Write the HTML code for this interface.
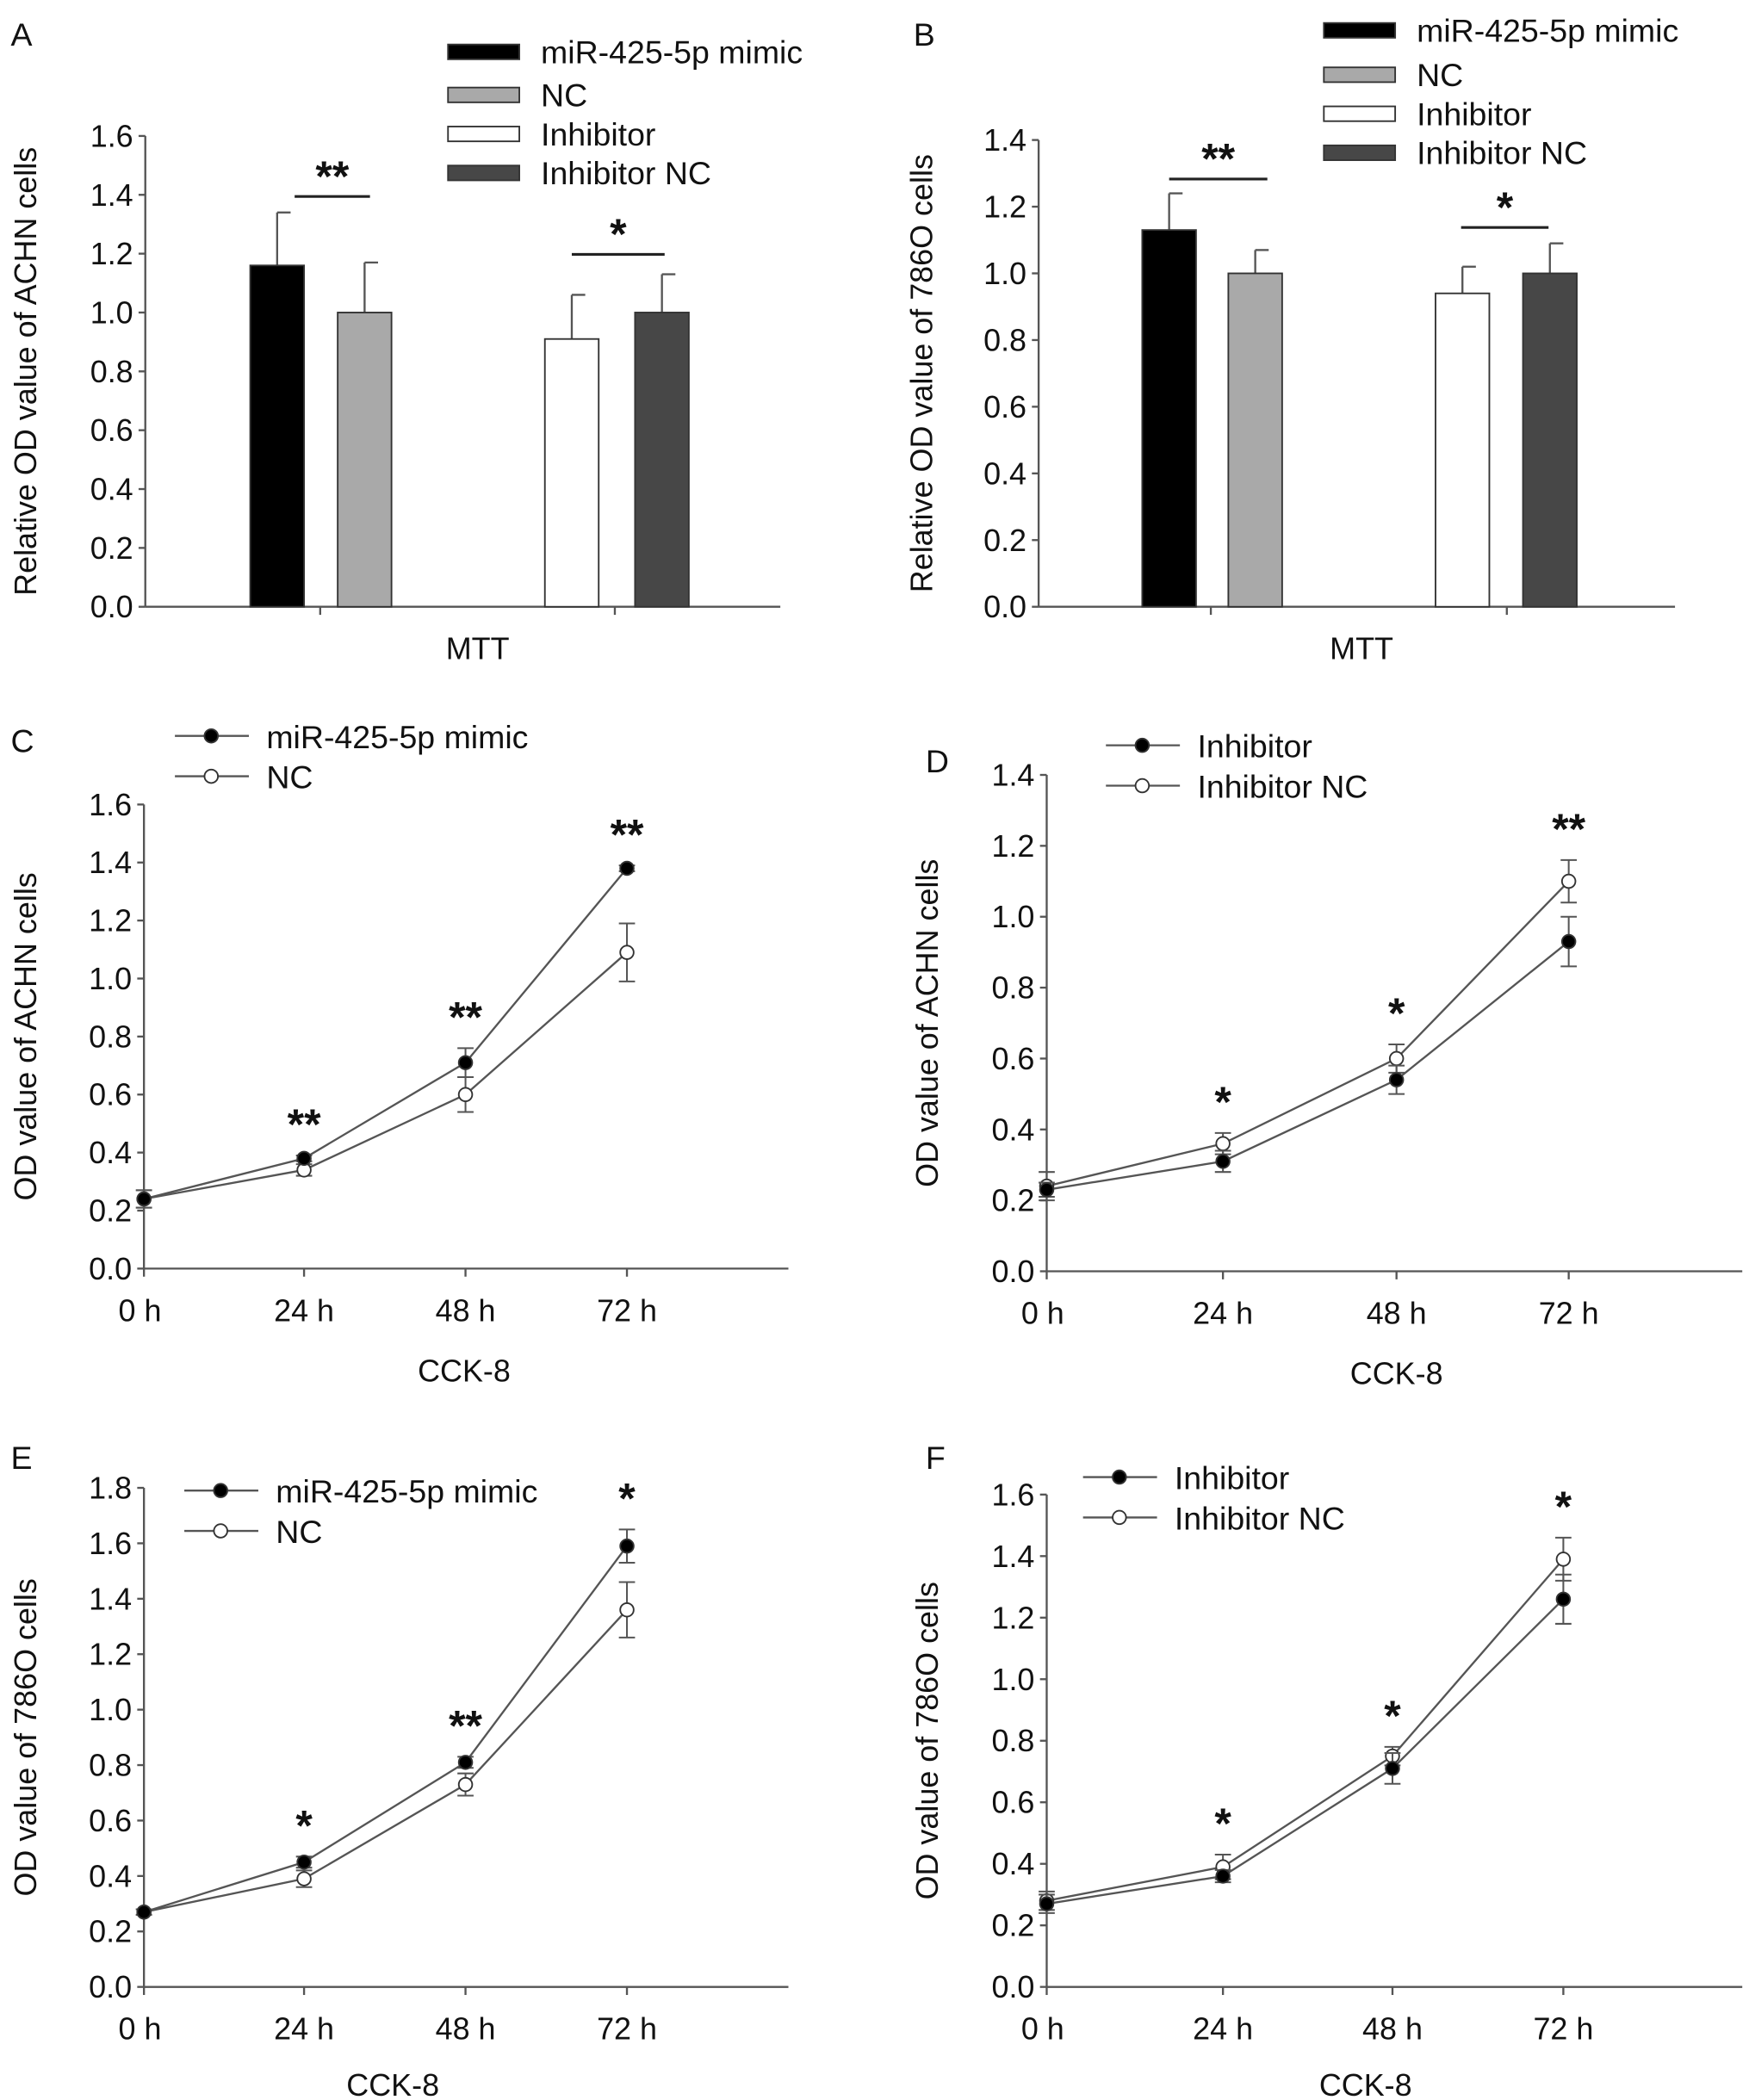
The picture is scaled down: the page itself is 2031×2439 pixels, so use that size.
<!DOCTYPE html>
<html><head><meta charset="utf-8"><style>
html,body{margin:0;padding:0;background:#fff}
svg{display:block}
text{font-family:"Liberation Sans",Arial,sans-serif;fill:#111}
</style></head><body>
<svg id="fig" width="2031" height="2439" viewBox="0 0 1300 1561" xmlns="http://www.w3.org/2000/svg"></svg>
<script>
// ---- Panel A (MTT ACHN) ----
const barLabels = ["miR-425-5p mimic","NC","Inhibitor","Inhibitor NC"];
const barColors = ["#000000","#a9a9a9","#ffffff","#474747"];
const aValues = [1.16, 1.00, 0.91, 1.00];
const aErrors = [0.18, 0.17, 0.15, 0.13];
const aTicks = ["0.0","0.2","0.4","0.6","0.8","1.0","1.2","1.4","1.6"];
// ---- Panel B (MTT 786O) ----
const bValues = [1.13, 1.00, 0.94, 1.00];
const bErrors = [0.11, 0.07, 0.08, 0.09];
const bTicks = ["0.0","0.2","0.4","0.6","0.8","1.0","1.2","1.4"];
// ---- Line panels ----
const timeLabels = ["0 h","24 h","48 h","72 h"];
const cMimic = [0.24, 0.38, 0.71, 1.38];
const cMimicErr = [0.03, 0.01, 0.05, 0.01];
const cNC = [0.24, 0.34, 0.60, 1.09];
const cNCErr = [0.03, 0.02, 0.06, 0.10];
const cStars = ["", "**", "**", "**"];
const dInh = [0.23, 0.31, 0.54, 0.93];
const dInhErr = [0.02, 0.03, 0.04, 0.07];
const dNC = [0.24, 0.36, 0.60, 1.10];
const dNCErr = [0.04, 0.03, 0.04, 0.06];
const dStars = ["", "*", "*", "**"];
const eMimic = [0.27, 0.45, 0.81, 1.59];
const eMimicErr = [0.01, 0.02, 0.02, 0.06];
const eNC = [0.27, 0.39, 0.73, 1.36];
const eNCErr = [0.01, 0.03, 0.04, 0.10];
const eStars = ["", "*", "**", "*"];
const fInh = [0.27, 0.36, 0.71, 1.26];
const fInhErr = [0.03, 0.02, 0.05, 0.08];
const fNC = [0.28, 0.39, 0.75, 1.39];
const fNCErr = [0.03, 0.04, 0.03, 0.07];
const fStars = ["", "*", "*", "*"];

const NS="http://www.w3.org/2000/svg";
const svg=document.getElementById('fig');
const AX="#555";
function el(tag,attrs,parent,txt){const e=document.createElementNS(NS,tag);for(const k in attrs)e.setAttribute(k,attrs[k]);if(txt!==undefined)e.textContent=txt;(parent||svg).appendChild(e);return e;}
function grp(name){const g=el('g',{});return g;}

function axes(g,p,ticks){
  const y=v=>p.y0-(v/p.ymax)*(p.y0-p.y1);
  const ya=el('line',{x1:p.x0,y1:p.y1,x2:p.x0,y2:p.y0,stroke:AX,'stroke-width':1.5},g);
  
  const xa=el('line',{x1:p.x0,y1:p.y0,x2:p.x2,y2:p.y0,stroke:AX,'stroke-width':1.5},g);
  
  ticks.forEach(t=>{const yy=y(parseFloat(t));
    el('line',{x1:p.x0-5,y1:yy,x2:p.x0,y2:yy,stroke:AX,'stroke-width':1.5},g);
    const tx=el('text',{x:p.x0-9,y:yy+8,'text-anchor':'end','font-size':23},g,t);
    
  });
  const yt=el('text',{x:0,y:0,'text-anchor':'middle','font-size':23,transform:`translate(${p.tx},${(p.y0+p.y1)/2+p.toff}) rotate(-90)`},g,p.title);
  
  const xt=el('text',{x:p.xtx,y:p.xty,'text-anchor':'middle','font-size':23},g,p.xtitle);
  
  const pl=el('text',{x:p.lx,y:p.ly,'font-size':24},g,p.letter);
  
  return y;
}

function barPanel(p,vals,errs,ticks){
  const g=grp(p.name);
  const y=axes(g,p,ticks);
  vals.forEach((v,i)=>{
    const bx=p.bx[i];
    el('line',{x1:bx+p.bw/2,y1:y(v+errs[i]),x2:bx+p.bw/2,y2:y(v),stroke:AX,'stroke-width':1.5},g);
    el('line',{x1:bx+p.bw/2,y1:y(v+errs[i]),x2:bx+p.bw/2+10,y2:y(v+errs[i]),stroke:AX,'stroke-width':1.5},g);
    const r=el('rect',{x:bx,y:y(v),width:p.bw,height:p.y0-y(v),fill:barColors[i],stroke:'#333','stroke-width':1.2},g);
    
    
  });
  p.gticks.forEach(x=>el('line',{x1:x,y1:p.y0,x2:x,y2:p.y0+6,stroke:AX,'stroke-width':1.5},g));
  p.sig.forEach(s=>{
    el('line',{x1:s.a,y1:s.y,x2:s.b,y2:s.y,stroke:'#222','stroke-width':2},g);
    const t=el('text',{x:(s.a+s.b)/2,y:s.y-4,'text-anchor':'middle','font-size':32,'font-weight':'bold'},g,s.t);
    
  });
  barLabels.forEach((l,i)=>{
    const lg=el('g',{},g);
    
    el('rect',{x:p.legx,y:p.legy[i]-5,width:53,height:11,fill:barColors[i],stroke:'#333','stroke-width':1.2},lg);
    el('text',{x:p.legx+69,y:p.legy[i]+9,'font-size':24},lg,l);
  });
}

function linePanel(p,s1,e1,s2,e2,stars,names,ticks){
  const g=grp(p.name);
  const y=axes(g,p,ticks);
  const x=i=>p.xs[i];
  timeLabels.forEach((t,i)=>{
    el('line',{x1:x(i),y1:p.y0,x2:x(i),y2:p.y0+6,stroke:AX,'stroke-width':1.5},g);
    const tx=el('text',{x:x(i)+(i==0?-3:0),y:p.y0+39,'text-anchor':'middle','font-size':23},g,t);
    
  });
  [[s2,e2,'#fff'],[s1,e1,'#000']].forEach(([s,e,f],k)=>{
    const sg=el('g',{},g);
    
    el('polyline',{points:s.map((v,i)=>x(i)+','+y(v)).join(' '),fill:'none',stroke:AX,'stroke-width':1.5},sg);
    s.forEach((v,i)=>{
      const t=y(v+e[i]),b=y(v-e[i]);
      el('line',{x1:x(i),y1:t,x2:x(i),y2:b,stroke:AX,'stroke-width':1.3},sg);
      el('line',{x1:x(i)-6,y1:t,x2:x(i)+6,y2:t,stroke:AX,'stroke-width':1.3},sg);
      el('line',{x1:x(i)-6,y1:b,x2:x(i)+6,y2:b,stroke:AX,'stroke-width':1.3},sg);
      const c=el('circle',{cx:x(i),cy:y(v),r:5,fill:f,stroke:'#333','stroke-width':1.2},sg);
      
    });
  });
  stars.forEach((st,i)=>{ if(!st)return;
    const top=Math.max(s1[i]+e1[i],s2[i]+e2[i]);
    const t=el('text',{x:x(i),y:y(top)-12,'text-anchor':'middle','font-size':32,'font-weight':'bold'},g,st);
    
  });
  names.forEach((n,i)=>{
    const lg=el('g',{},g);
    
    const yy=p.legy+i*30;
    el('line',{x1:p.legx,y1:yy,x2:p.legx+55,y2:yy,stroke:AX,'stroke-width':1.5},lg);
    el('circle',{cx:p.legx+27,cy:yy,r:5,fill:i==0?'#000':'#fff',stroke:'#333','stroke-width':1.2},lg);
    el('text',{x:p.legx+68,y:yy+9,'font-size':24},lg,n);
  });
}

barPanel({name:'panel-a',x0:108,x2:580,y0:451,y1:101,ymax:1.6,title:'Relative OD value of ACHN cells',tx:27,toff:0,
  xtitle:'MTT',xtx:355,xty:490,letter:'A',lx:8,ly:34,bx:[186,251,405,472],bw:40,gticks:[238,457],
  sig:[{a:219,b:275,y:146,t:'**'},{a:425,b:494,y:189,t:'*'}],legx:333,legy:[38,70,99,128]},aValues,aErrors,aTicks);
barPanel({name:'panel-b',x0:772,x2:1245,y0:451,y1:104,ymax:1.4,title:'Relative OD value of 786O cells',tx:693,toff:0,
  xtitle:'MTT',xtx:1012,xty:490,letter:'B',lx:679,ly:34,bx:[849,913,1067,1132],bw:40,gticks:[900,1120],
  sig:[{a:869,b:942,y:133,t:'**'},{a:1086,b:1151,y:169,t:'*'}],legx:984,legy:[22,55,84,113]},bValues,bErrors,bTicks);
linePanel({name:'panel-c',x0:107,x2:586,y0:943,y1:598,ymax:1.6,title:'OD value of ACHN cells',tx:27,toff:0,
  xtitle:'CCK-8',xtx:345,xty:1027,letter:'C',lx:8,ly:559,xs:[107,226,346,466],legx:130,legy:547},
  cMimic,cMimicErr,cNC,cNCErr,cStars,['miR-425-5p mimic','NC'],aTicks);
linePanel({name:'panel-d',x0:778,x2:1295,y0:945,y1:576,ymax:1.4,title:'OD value of ACHN cells',tx:697,toff:0,
  xtitle:'CCK-8',xtx:1038,xty:1029,letter:'D',lx:688,ly:574,xs:[778,909,1038,1166],legx:822,legy:554},
  dInh,dInhErr,dNC,dNCErr,dStars,['Inhibitor','Inhibitor NC'],bTicks);
linePanel({name:'panel-e',x0:107,x2:586,y0:1477,y1:1106,ymax:1.8,title:'OD value of 786O cells',tx:27,toff:0,
  xtitle:'CCK-8',xtx:292,xty:1558,letter:'E',lx:8,ly:1092,xs:[107,226,346,466],legx:137,legy:1108},
  eMimic,eMimicErr,eNC,eNCErr,eStars,['miR-425-5p mimic','NC'],["0.0","0.2","0.4","0.6","0.8","1.0","1.2","1.4","1.6","1.8"]);
linePanel({name:'panel-f',x0:778,x2:1295,y0:1477,y1:1111,ymax:1.6,title:'OD value of 786O cells',tx:697,toff:0,
  xtitle:'CCK-8',xtx:1015,xty:1558,letter:'F',lx:688,ly:1092,xs:[778,909,1035,1162],legx:805,legy:1098},
  fInh,fInhErr,fNC,fNCErr,fStars,['Inhibitor','Inhibitor NC'],aTicks);
</script>
</body></html>
